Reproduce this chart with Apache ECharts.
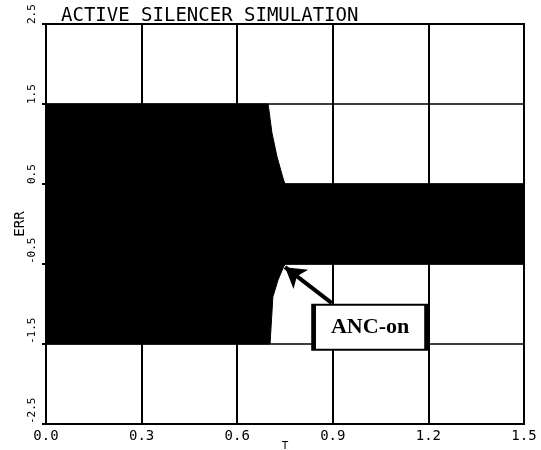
<!DOCTYPE html>
<html><head><meta charset="utf-8">
<script src="https://cdn.jsdelivr.net/npm/echarts@6/dist/echarts.min.js"></script>
<style>html,body{margin:0;padding:0;background:#fff}#c{width:541px;height:450px}</style>
</head><body><div id="c"></div>
<script>
// ---- data ----
const titleText = 'ACTIVE SILENCER SIMULATION';
const xName = 'T';
const yName = 'ERR';
// upper / lower envelope of the ERR oscillation (T, value)
const upperT = [0, 0.697, 0.709, 0.725, 0.744, 0.75, 1.5];
const upperV = [1.5, 1.5, 1.14, 0.84, 0.57, 0.5, 0.5];
const lowerT = [0, 0.703, 0.712, 0.728, 0.744, 0.75, 1.5];
const lowerV = [-1.5, -1.5, -0.91, -0.7, -0.55, -0.5, -0.5];
// annotation
const annotationText = 'ANC-on';
const arrowFrom = [0.897, -0.99];
const arrowTo = [0.75, -0.54];
const boxCenter = [1.017, -1.29];

const upper = upperT.map((t, i) => [t, upperV[i]]);
const lower = lowerT.map((t, i) => [t, lowerV[i]]);

const mono = 'DejaVu Sans Mono';
const chart = echarts.init(document.getElementById('c'), null, {renderer: 'canvas'});
chart.setOption({
  animation: false,
  backgroundColor: '#fff',
  title: {
    text: titleText, left: 56, top: 2,
    textStyle: {fontFamily: mono, fontSize: 19, fontWeight: 'normal', color: '#000'}
  },
  grid: {left: 46, right: 17, top: 24, bottom: 26, outerBoundsMode: 'none', containLabel: false,
    show: true, borderColor: '#000', borderWidth: 2, backgroundColor: 'transparent'},
  xAxis: {
    type: 'value', min: 0, max: 1.5, interval: 0.3,
    name: xName, nameLocation: 'middle', nameGap: 17, nameMoveOverlap: false,
    nameTextStyle: {fontFamily: mono, fontSize: 11, color: '#000'},
    axisLine: {show: true, lineStyle: {color: '#000', width: 2}},
    axisTick: {show: true, length: 4, lineStyle: {color: '#000', width: 2}},
    axisLabel: {fontFamily: mono, fontSize: 14, color: '#000', margin: 5, formatter: v => v.toFixed(1)},
    splitLine: {show: true, lineStyle: {color: '#000', width: 2}}
  },
  yAxis: {
    type: 'value', min: -2.5, max: 2.5, interval: 1,
    name: yName, nameLocation: 'middle', nameGap: 19, nameRotate: 90, nameMoveOverlap: false,
    nameTextStyle: {fontFamily: mono, fontSize: 14, color: '#000'},
    axisLine: {show: true, lineStyle: {color: '#000', width: 2}},
    axisTick: {show: true, length: 4, lineStyle: {color: '#000', width: 2}},
    axisLabel: {fontFamily: mono, fontSize: 11, color: '#000', rotate: 90, align: 'left', margin: 8, formatter: v => v.toFixed(1)},
    splitLine: {show: true, lineStyle: {color: '#000', width: 1.5}}
  },
  series: [
    {
      type: 'line', data: upper, symbol: 'none', silent: true,
      lineStyle: {color: '#000', width: 1}, areaStyle: {color: '#000', opacity: 1},
      markLine: {
        silent: true, symbol: ['none', 'arrow'], symbolSize: [18, 20],
        lineStyle: {color: '#000', width: 4, type: 'solid'},
        label: {show: false},
        data: [[{coord: arrowFrom}, {coord: arrowTo}]]
      },
      markPoint: {
        silent: true,
        data: [{
          coord: boxCenter, symbol: 'rect', symbolSize: [113, 45],
          itemStyle: {color: '#fff', borderColor: '#000', borderWidth: 3},
          label: {show: true, position: 'inside', formatter: annotationText,
            fontFamily: 'Liberation Serif', fontWeight: 'bold', fontSize: 22, color: '#000'}
        }]
      }
    },
    {
      type: 'line', data: lower, symbol: 'none', silent: true,
      lineStyle: {color: '#000', width: 1}, areaStyle: {color: '#000', opacity: 1}
    }
  ]
});
</script></body></html>
